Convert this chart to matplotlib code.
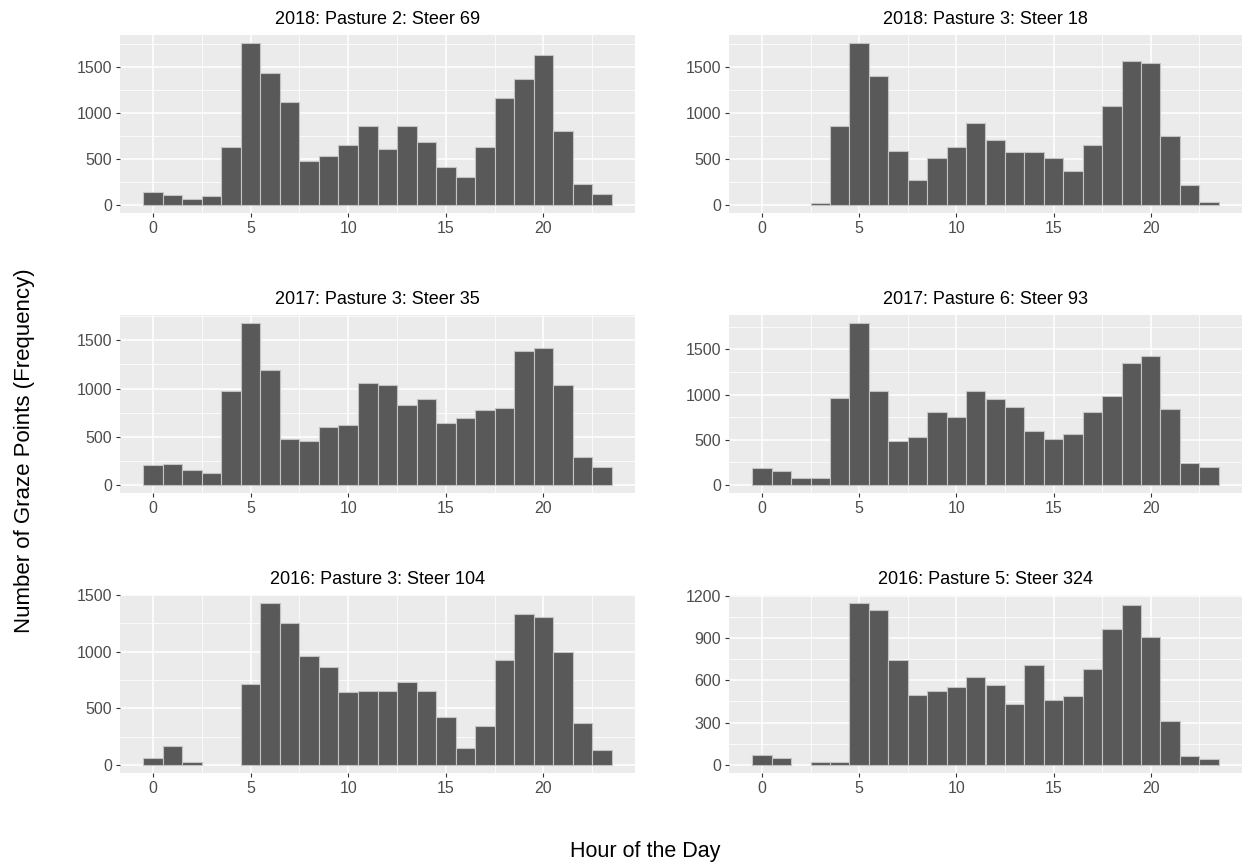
import numpy as np
import matplotlib
matplotlib.use("Agg")
import matplotlib.pyplot as plt
from matplotlib.ticker import MultipleLocator

plt.rcParams["font.family"] = ["Liberation Sans", "DejaVu Sans"]

PANEL_BG = "#ebebeb"
BAR = "#595959"
BAR_EDGE = "#c4c4c4"
TICK = "#333333"
TICK_TXT = "#4d4d4d"

hours = list(range(24))

titles = [
    "2018: Pasture 2: Steer 69",
    "2018: Pasture 3: Steer 18",
    "2017: Pasture 3: Steer 35",
    "2017: Pasture 6: Steer 93",
    "2016: Pasture 3: Steer 104",
    "2016: Pasture 5: Steer 324",
]

steer69_2018 = [138, 109, 62, 94, 634, 1761, 1435, 1116, 482, 529, 649, 859,
                605, 859, 681, 409, 304, 634, 1159, 1370, 1627, 801, 228, 123]
steer18_2018 = [0, 0, 0, 18, 859, 1761, 1399, 587, 272, 514, 634, 888,
                710, 572, 572, 514, 366, 649, 1072, 1565, 1540, 754, 217, 29]
steer35_2017 = [203, 217, 159, 128, 976, 1679, 1193, 476, 459, 603, 617, 1062,
                1034, 831, 890, 645, 690, 779, 793, 1390, 1421, 1034, 290, 190]
steer93_2017 = [187, 158, 77, 77, 963, 1790, 1040, 489, 533, 809, 750, 1040,
                949, 857, 596, 507, 566, 809, 978, 1346, 1423, 842, 246, 202]
steer104_2016 = [65, 166, 30, 0, 0, 715, 1430, 1258, 964, 866, 644, 656,
                 656, 730, 656, 421, 151, 347, 926, 1332, 1309, 1000, 374, 128]
steer324_2016 = [71, 52, 0, 24, 24, 1148, 1100, 743, 498, 526, 555, 626,
                 567, 429, 712, 457, 488, 683, 962, 1138, 910, 310, 62, 40]

series = [steer69_2018, steer18_2018, steer35_2017,
          steer93_2017, steer104_2016, steer324_2016]
y_steps = [500, 500, 500, 500, 500, 300]

W, H = 1243, 867
col_x = [120, 729]
col_w = [515, 513]
row_top = [35, 315, 595]
row_h = 178

fig = plt.figure(figsize=(W / 100, H / 100), dpi=100)
fig.patch.set_facecolor("white")

for i, (title, counts, step) in enumerate(zip(titles, series, y_steps)):
    r, c = divmod(i, 2)
    rect = [col_x[c] / W, 1 - (row_top[r] + row_h) / H, col_w[c] / W, row_h / H]
    ax = fig.add_axes(rect)
    ax.set_facecolor(PANEL_BG)

    x = [h for h, v in zip(hours, counts) if v > 0]
    y = [v for v in counts if v > 0]
    ax.bar(x, y, width=1.0, color=BAR, edgecolor=BAR_EDGE, linewidth=0.8, zorder=3)

    ymax = max(counts)
    ax.set_xlim(-1.7, 24.7)
    ax.set_ylim(-0.05 * ymax, 1.05 * ymax)

    ax.xaxis.set_major_locator(MultipleLocator(5))
    ax.xaxis.set_minor_locator(MultipleLocator(2.5))
    ax.yaxis.set_major_locator(MultipleLocator(step))
    ax.yaxis.set_minor_locator(MultipleLocator(step / 2))
    ax.grid(which="major", color="white", lw=1.1, zorder=0)
    ax.grid(which="minor", color="white", lw=0.55, zorder=0)
    ax.set_axisbelow(True)

    ax.tick_params(which="major", length=3, width=0.8, color=TICK,
                   labelcolor=TICK_TXT, labelsize=11.5, pad=2.5)
    ax.tick_params(which="minor", length=0)
    for s in ax.spines.values():
        s.set_visible(False)

    ax.set_title(title, fontsize=13, color="black", pad=8)

fig.text(645 / W, 1 - 852 / H, "Hour of the Day", ha="center", va="center", fontsize=15.5)
fig.text(25 / W, 1 - 451 / H, "Number of Graze Points (Frequency)", ha="center",
         va="center", rotation=90, fontsize=16)

fig.savefig("out.png", dpi=100)
